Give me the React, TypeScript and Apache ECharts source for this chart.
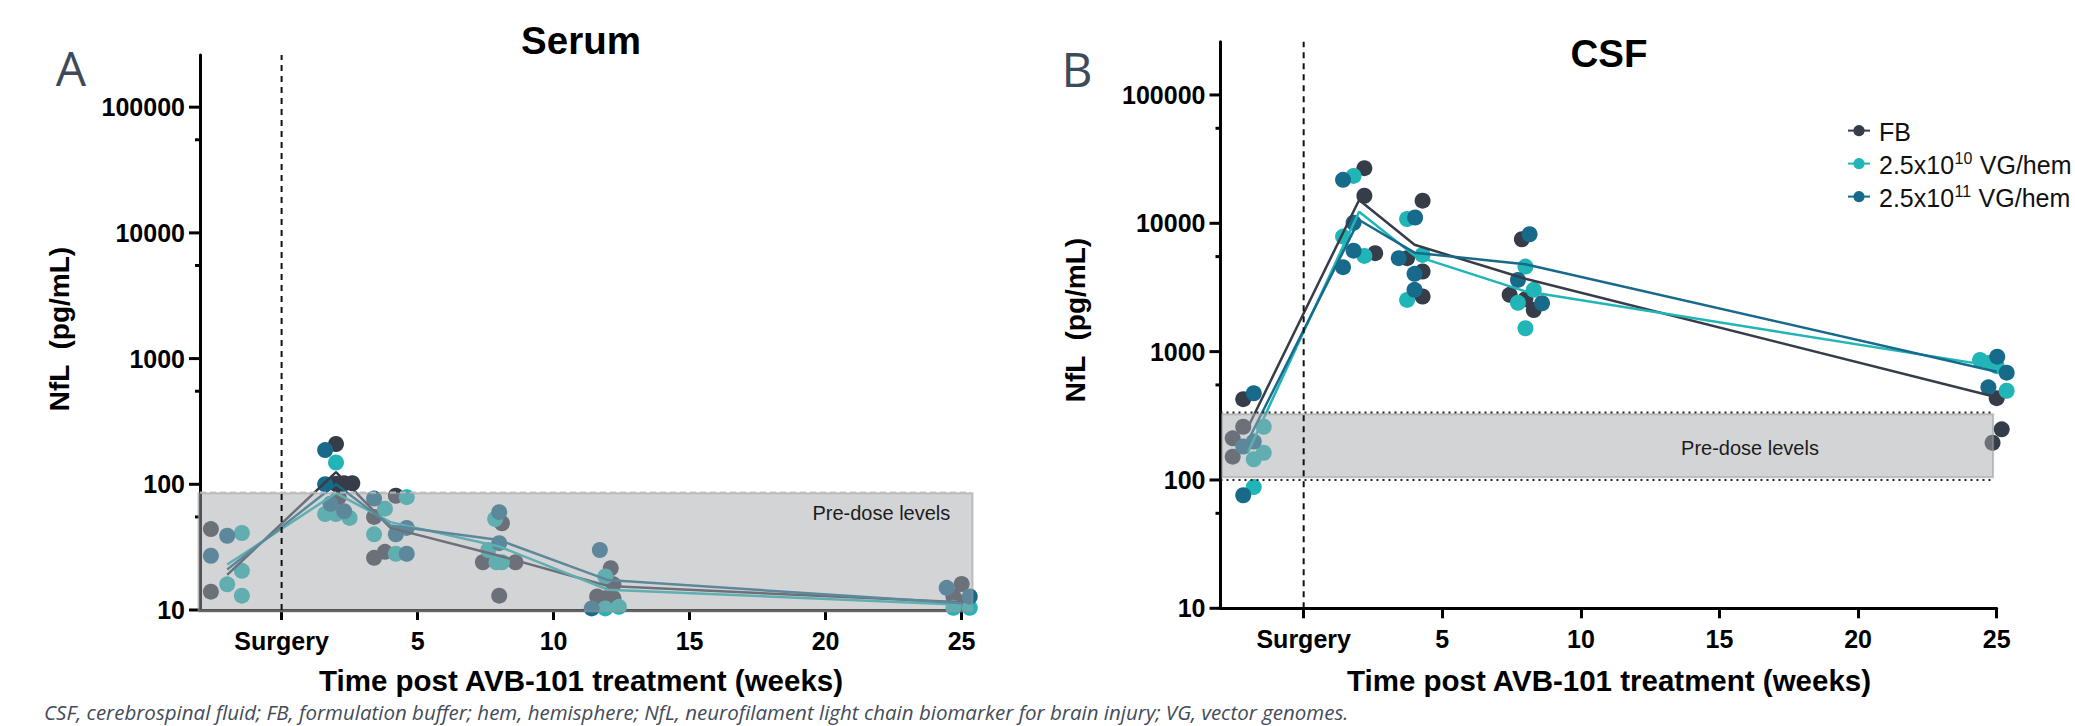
import React, { useEffect, useRef } from 'react';
import * as echarts from 'echarts';

const FONT = "'Liberation Sans', Arial, sans-serif";

const groupNames = ['FB', '2.5x10^10 VG/hem', '2.5x10^11 VG/hem'];
const groupColors = ['#363d49', '#21b5b7', '#186a8b'];

const xTickValues = [0, 5, 10, 15, 20, 25];
const yMajorTicks = [10, 100, 1000, 10000, 100000];
const yMinorTicks = [55, 550, 5500, 55000];

// Serum (panel A)
const serumMeanWeeks = [-2, 2, 4, 8, 12, 25];
const serumMeanFB = [19, 125, 45, 27, 15.5, 11.5];
const serumMean10 = [23, 85, 50, 32, 14.5, 11];
const serumMean11 = [21, 100, 47, 36, 17.3, 11.3];

const serumFB = [
  [-2.6, 44], [-2.6, 14], [2.0, 209], [2.0, 101], [2.3, 102], [2.6, 102], [2.1, 79],
  [3.4, 55], [3.4, 26], [3.8, 29], [4.2, 81], [7.4, 24], [8.1, 49], [8.6, 24], [8.0, 13],
  [12.1, 21.5], [12.2, 16], [11.6, 12.8], [11.9, 12.4], [12.2, 12.4],
  [24.7, 12.8], [25.0, 16.1], [25.0, 11.4],
];
const serum10 = [
  [-1.46, 41], [-2.0, 16], [-1.46, 20.5], [-1.46, 13], [2.0, 149], [1.6, 58], [2.0, 58], [2.5, 54],
  [3.8, 64], [3.4, 40], [4.2, 28], [4.6, 79], [7.85, 53], [7.6, 30], [7.9, 24], [8.1, 24],
  [11.9, 18.5], [11.9, 10.3], [12.4, 10.6], [24.7, 10.4], [25.3, 10.4],
];
const serum11 = [
  [-2.6, 27], [-2.0, 39], [1.6, 187], [1.6, 100], [1.8, 70], [2.3, 61], [3.4, 77], [4.2, 40],
  [4.6, 45], [4.6, 28], [8.0, 60], [8.0, 34], [11.7, 30], [11.4, 10.3], [24.45, 15], [25.3, 12.8],
];

// CSF (panel B)
const csfMeanWeeks = [-2, 2, 4, 8, 25];
const csfMeanFB = [260, 15200, 6800, 3700, 441];
const csfMean10 = [166, 12300, 5600, 2950, 764];
const csfMean11 = [204, 10600, 5900, 4800, 698];

const csfFB = [
  [-2.18, 426], [-2.18, 260], [-2.56, 211], [-2.56, 152], [2.19, 26900], [2.19, 16400], [2.58, 5850],
  [4.29, 15000], [3.73, 5350], [4.29, 4210], [4.29, 2690], [7.87, 7510], [7.43, 2770], [8.0, 2560],
  [8.3, 2110], [25.0, 434], [25.18, 248], [24.85, 195],
];
const csf10 = [
  [-1.44, 260], [-1.44, 163], [-1.8, 145], [-1.8, 88], [1.8, 23400], [1.42, 7880], [2.19, 5570],
  [3.73, 10800], [4.29, 5670], [3.73, 2530], [8.0, 4600], [8.3, 3030], [7.73, 2400], [8.0, 1520],
  [24.4, 861], [24.75, 820], [25.0, 770], [25.36, 496],
];
const csf11 = [
  [-1.8, 474], [-1.8, 199], [-2.18, 182], [-2.18, 76], [1.42, 21800], [1.8, 10100], [1.8, 6120],
  [1.42, 4550], [4.02, 11100], [3.43, 5350], [4.0, 4040], [4.0, 3030], [8.15, 8220], [7.73, 3620],
  [8.6, 2380], [25.02, 914], [25.36, 686], [24.7, 527],
];

// Pre-dose bands
const serumBandX = [-3, 25.4];
const serumBandY = [10, 85];
const serumBandEdge = [86];
const csfBandX = [-3, 24.87];
const csfBandY = [105, 325];
const csfBandEdge = [100, 335];

const axisRange = {
  xMin: -3,
  serumXMax: 25.4,
  csfXMax: 25,
  yMin: 10,
  yMax: 260000,
};

// legend layout (row centres)
const legendRows = [132, 165, 198];
const legendIconX = 1847;
const legendTextX = 1879;
const LEGEND_FONT = `25px ${FONT}`;
const LEGEND_SUP_FONT = `16px ${FONT}`;

function zip(xs: number[], ys: number[]) {
  return xs.map((x, i) => [x, ys[i]]);
}

let measureCtx: CanvasRenderingContext2D | null = null;
function measure(str: string, font: string) {
  if (!measureCtx) measureCtx = document.createElement('canvas').getContext('2d');
  if (!measureCtx) return str.length * 12;
  measureCtx.font = font;
  return measureCtx.measureText(str).width;
}

function makeBand(
  gi: number,
  bx: number[],
  by: number[],
  edges: number[],
  edgeStyle: any,
  labelPos: number[],
  coverAxis: boolean,
) {
  return {
    type: 'custom',
    xAxisIndex: gi,
    yAxisIndex: gi,
    z: 10,
    silent: true,
    clip: false,
    data: [[bx[0], bx[1], by[0], by[1]]],
    encode: { x: [0, 1], y: [2, 3] },
    renderItem: (params: any, api: any) => {
      const x0 = api.value(0);
      const x1 = api.value(1);
      const y0 = api.value(2);
      const y1 = api.value(3);
      const tl = api.coord([x0, y1]);
      const br = api.coord([x1, y0]);
      const children: any[] = [];
      children.push({
        type: 'rect',
        shape: {
          x: tl[0] + (coverAxis ? -1.5 : 1.5),
          y: tl[1],
          width: br[0] - tl[0] - (coverAxis ? -1.5 : 1.5),
          height: br[1] - tl[1] + (coverAxis ? 1.5 : 0),
        },
        style: {
          fill: 'rgba(166,168,172,0.49)',
          stroke: 'rgba(150,152,156,0.55)',
          lineWidth: 2,
        },
      });
      edges.forEach((e) => {
        const a = api.coord([x0, e]);
        const b = api.coord([x1, e]);
        children.push({
          type: 'line',
          shape: { x1: a[0], y1: a[1], x2: b[0] - 2, y2: b[1] },
          style: edgeStyle,
        });
      });
      const s0 = api.coord([0, axisRange.yMin]);
      const s1 = api.coord([0, axisRange.yMax]);
      children.push({
        type: 'line',
        shape: { x1: s0[0], y1: s0[1], x2: s1[0], y2: s1[1] },
        style: { stroke: '#111', lineWidth: 2, lineDash: [6, 5] },
      });
      const lp = api.coord(labelPos);
      children.push({
        type: 'text',
        x: lp[0],
        y: lp[1],
        style: {
          text: 'Pre-dose levels',
          fill: '#1c1c1c',
          font: `20px ${FONT}`,
          align: 'center',
          verticalAlign: 'middle',
          textAlign: 'center',
          textVerticalAlign: 'middle',
        },
      });
      return { type: 'group', children };
    },
  };
}

function makeTicks(gi: number) {
  const data = [
    ...yMajorTicks.map((v) => [axisRange.xMin, v, 11]),
    ...yMinorTicks.map((v) => [axisRange.xMin, v, 5]),
  ];
  return {
    type: 'custom',
    xAxisIndex: gi,
    yAxisIndex: gi,
    z: 4,
    silent: true,
    clip: false,
    data,
    encode: { x: 0, y: 1 },
    renderItem: (params: any, api: any) => {
      const p = api.coord([api.value(0), api.value(1)]);
      const len = api.value(2);
      return {
        type: 'line',
        shape: { x1: p[0] - len, y1: p[1], x2: p[0], y2: p[1] },
        style: { stroke: '#000', lineWidth: 3 },
      };
    },
  };
}

function makeAxes(gi: number, xMax: number) {
  const xAxis = {
    type: 'value',
    gridIndex: gi,
    min: axisRange.xMin,
    max: xMax,
    splitLine: { show: false },
    axisLine: { show: true, onZero: false, lineStyle: { color: '#000', width: 3 } },
    axisTick: {
      show: true,
      customValues: xTickValues,
      length: 10,
      lineStyle: { color: '#000', width: 3 },
    },
    axisLabel: {
      customValues: xTickValues,
      formatter: (v: number) => (v === 0 ? 'Surgery' : String(v)),
      fontSize: 25,
      fontWeight: 'bold',
      fontFamily: FONT,
      color: '#000',
      margin: 18,
    },
  };
  const yAxis = {
    type: 'log',
    logBase: 10,
    gridIndex: gi,
    min: axisRange.yMin,
    max: axisRange.yMax,
    splitLine: { show: false },
    minorTick: { show: false },
    axisLine: { show: true, onZero: false, lineStyle: { color: '#000', width: 3 } },
    axisTick: { show: false },
    axisLabel: {
      formatter: (v: number) => (yMajorTicks.includes(Math.round(v)) ? String(Math.round(v)) : ''),
      fontSize: 25,
      fontWeight: 'bold',
      fontFamily: FONT,
      color: '#000',
      margin: 15,
      showMaxLabel: false,
    },
  };
  return { xAxis, yAxis };
}

function makeLines(gi: number, weeks: number[], means: number[][]) {
  return means.map((m, i) => ({
    type: 'line',
    name: groupNames[i],
    xAxisIndex: gi,
    yAxisIndex: gi,
    data: zip(weeks, m),
    symbol: 'circle',
    symbolSize: 12,
    showSymbol: false,
    z: 3,
    silent: true,
    lineStyle: { color: groupColors[i], width: 2.5 },
    itemStyle: { color: groupColors[i] },
  }));
}

function makeScatters(gi: number, pts: number[][][]) {
  return pts.map((p, i) => ({
    type: 'scatter',
    name: groupNames[i],
    xAxisIndex: gi,
    yAxisIndex: gi,
    data: p,
    symbol: 'circle',
    symbolSize: 16,
    z: 2,
    clip: false,
    silent: true,
    itemStyle: { color: groupColors[i], opacity: 1 },
  }));
}

function text(
  x: number, y: number, str: string, font: string, fill = '#000', rotation = 0,
  align = 'center', vAlign = 'middle',
) {
  return {
    type: 'text',
    x,
    y,
    rotation,
    silent: true,
    style: {
      text: str,
      font,
      fill,
      align,
      verticalAlign: vAlign,
      textAlign: align,
      textVerticalAlign: vAlign,
    },
  };
}

function legendTexts(name: string, y: number) {
  const m = name.match(/^(.*?)\^(\d+)(.*)$/);
  if (!m) return [text(legendTextX, y, name, LEGEND_FONT, '#111', 0, 'left')];
  const w1 = measure(m[1], LEGEND_FONT);
  const w2 = measure(m[2], LEGEND_SUP_FONT);
  return [
    text(legendTextX, y, m[1], LEGEND_FONT, '#111', 0, 'left'),
    text(legendTextX + w1 + 0.5, y - 15, m[2], LEGEND_SUP_FONT, '#111', 0, 'left', 'top'),
    text(legendTextX + w1 + w2 + 1, y, m[3], LEGEND_FONT, '#111', 0, 'left'),
  ];
}

export default function App() {
  const ref = useRef<HTMLDivElement>(null);

  useEffect(() => {
    if (!ref.current) return;
    const chart = echarts.init(ref.current, undefined, { renderer: 'svg' });
    const a = makeAxes(0, axisRange.serumXMax);
    const b = makeAxes(1, axisRange.csfXMax);

    const option: any = {
      animation: false,
      backgroundColor: '#fff',
      grid: [
        { left: 200, top: 55, width: 772.5, height: 555 },
        { left: 1220.5, top: 41.7, width: 776.2, height: 566.6 },
      ],
      xAxis: [a.xAxis, b.xAxis],
      yAxis: [a.yAxis, b.yAxis],
      legend: groupNames.map((name, i) => ({
        data: [name],
        orient: 'vertical',
        left: legendIconX,
        top: legendRows[i] - 7,
        itemWidth: 22,
        itemHeight: 14,
        padding: 0,
        selectedMode: false,
        formatter: () => '',
        textStyle: { fontSize: 1, lineHeight: 1 },
      })),
      graphic: [
        text(71, 67, 'A', `48px 'Open Sans', sans-serif`, '#3e4a59'),
        text(1077, 68, 'B', `48px 'Open Sans', sans-serif`, '#3e4a59'),
        text(581, 40, 'Serum', `bold 38.5px ${FONT}`),
        text(1609, 53, 'CSF', `bold 38.5px ${FONT}`),
        text(59, 329, 'NfL  (pg/mL)', `bold 28px ${FONT}`, '#000', Math.PI / 2),
        text(1075, 320, 'NfL  (pg/mL)', `bold 28px ${FONT}`, '#000', Math.PI / 2),
        text(581, 680, 'Time post AVB-101 treatment (weeks)', `bold 29.5px ${FONT}`),
        text(1609, 680, 'Time post AVB-101 treatment (weeks)', `bold 29.5px ${FONT}`),
        text(
          44,
          712,
          'CSF, cerebrospinal fluid; FB, formulation buffer; hem, hemisphere; NfL, neurofilament light chain biomarker for brain injury; VG, vector genomes.',
          `italic 20.5px 'Open Sans', sans-serif`,
          '#434b57',
          0,
          'left',
        ),
        ...groupNames.flatMap((name, i) => legendTexts(name, legendRows[i])),
      ],
      series: [
        ...makeLines(1, csfMeanWeeks, [csfMeanFB, csfMean10, csfMean11]),
        ...makeLines(0, serumMeanWeeks, [serumMeanFB, serumMean10, serumMean11]),
        ...makeScatters(0, [serumFB, serum10, serum11]),
        ...makeScatters(1, [csfFB, csf10, csf11]),
        makeBand(0, serumBandX, serumBandY, serumBandEdge,
          { stroke: 'rgba(190,190,192,0.9)', lineWidth: 2, lineDash: [6, 4] }, [22.05, 59.4], true),
        makeBand(1, csfBandX, csfBandY, csfBandEdge,
          { stroke: '#222', lineWidth: 2, lineDash: [2, 4] }, [16.1, 178.6], false),
        makeTicks(0),
        makeTicks(1),
      ],
    };
    chart.setOption(option);
    return () => chart.dispose();
  }, []);

  return (
    <div
      ref={ref}
      style={{ position: 'absolute', left: 0, top: 0, width: 2075, height: 726, background: '#fff' }}
    />
  );
}
